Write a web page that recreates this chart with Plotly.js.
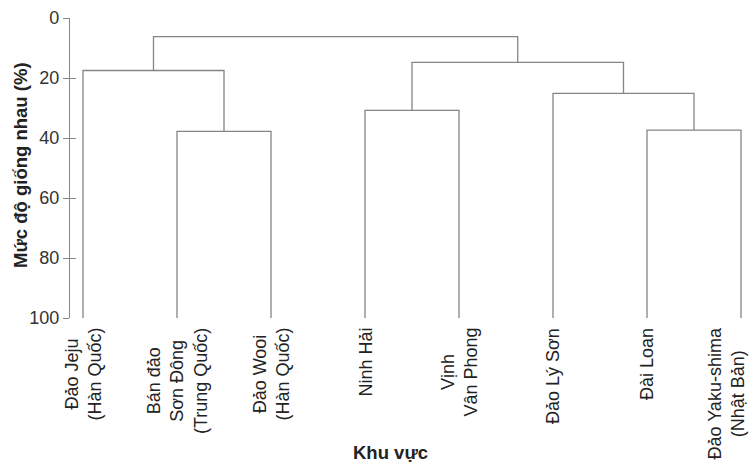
<!DOCTYPE html>
<html>
<head>
<meta charset="utf-8">
<script src="https://cdn.plot.ly/plotly-3.0.1.min.js"></script>
<style>
  html, body { margin: 0; padding: 0; background: #fff; }
  #chart { width: 750px; height: 466px; }
</style>
</head>
<body>
<div id="chart"></div>
<script>
// Leaves of the dendrogram, left to right
const regions = [
  'Đảo Jeju<br>(Hàn Quốc)',
  'Bán đảo<br>Sơn Đông<br>(Trung Quốc)',
  'Đảo Wooi<br>(Hàn Quốc)',
  'Ninh Hải',
  'Vịnh<br>Vân Phong',
  'Đảo Lý Sơn',
  'Đài Loan',
  'Đảo Yaku-shima<br>(Nhật Bản)'
];

// Merge steps: each joins two nodes (leaf index, or "m" + merge index) at a given level (%)
const mergeLeft   = [1,    0,    3,    6,    5,    'm2', 'm1'];
const mergeRight  = [2,    'm0', 4,    7,    'm3', 'm4', 'm5'];
const mergeLevel  = [37.8, 17.5, 30.8, 37.4, 25.1, 14.8, 6.2];

const yTicks = [0, 20, 40, 60, 80, 100];
const leafLevel = 100;

// Resolve node positions and build the elbow connectors
const nodeX = {}, nodeY = {};
regions.forEach((_, i) => { nodeX[i] = i; nodeY[i] = leafLevel; });
const lx = [], ly = [];
mergeLevel.forEach((h, k) => {
  const a = mergeLeft[k], b = mergeRight[k];
  lx.push(nodeX[a], nodeX[a], nodeX[b], nodeX[b], null);
  ly.push(nodeY[a], h, h, nodeY[b], null);
  nodeX['m' + k] = (nodeX[a] + nodeX[b]) / 2;
  nodeY['m' + k] = h;
});

const FONT = 'Liberation Sans, Arial, Helvetica, sans-serif';
const lineGray = '#858585';

const traces = [
  {
    type: 'scatter', mode: 'lines', x: lx, y: ly,
    line: { color: lineGray, width: 1.3 },
    hoverinfo: 'skip', showlegend: false
  },
  {
    // carrier for the inner half of the tick marks
    type: 'scatter', mode: 'lines', x: [null], y: [null], yaxis: 'y2',
    hoverinfo: 'skip', showlegend: false
  }
];

const n = regions.length;
const annotations = regions.map((t, i) => {
  const last = i === n - 1;
  return {
    x: i, xref: 'x', y: 0, yref: 'paper',
    text: t, showarrow: false, textangle: -90,
    xanchor: last ? 'right' : 'center', yanchor: 'top',
    xshift: last ? 8 : 0, yshift: -8,
    align: 'center',
    font: { family: FONT, size: 18, color: '#222' }
  };
});
// axis titles
annotations.push({
  x: 0.472, xref: 'paper', y: -0.447, yref: 'paper',
  text: '<b>Khu vực</b>', showarrow: false,
  xanchor: 'center', yanchor: 'middle',
  font: { family: FONT, size: 18.5, color: '#222' }
});
annotations.push({
  x: -50 / 680, xref: 'paper', y: 0.51, yref: 'paper',
  text: '<b>Mức độ giống nhau (%)</b>', showarrow: false, textangle: -90,
  xanchor: 'center', yanchor: 'middle',
  font: { family: FONT, size: 18.5, color: '#222' }
});

const layout = {
  width: 750, height: 466,
  margin: { l: 70, r: 0, t: 18, b: 148 },
  paper_bgcolor: '#fff', plot_bgcolor: '#fff',
  xaxis: {
    range: [-13 / 94, n - 1 + 9 / 94],
    showline: false, showgrid: false, zeroline: false,
    showticklabels: false, ticks: ''
  },
  yaxis: {
    range: [100, 0], tickvals: yTicks,
    ticks: 'outside', ticklen: 6, tickcolor: lineGray, tickwidth: 1,
    showline: true, linecolor: lineGray, linewidth: 1.2,
    showgrid: false, zeroline: false,
    tickfont: { family: FONT, size: 18, color: '#333' },
    automargin: false
  },
  yaxis2: {
    overlaying: 'y', range: [100, 0], tickvals: yTicks,
    ticks: 'inside', ticklen: 6, tickcolor: lineGray, tickwidth: 1,
    showticklabels: false, showline: false, showgrid: false, zeroline: false
  },
  annotations: annotations,
  showlegend: false
};

Plotly.newPlot('chart', traces, layout, { displayModeBar: false, staticPlot: true });
</script>
</body>
</html>
